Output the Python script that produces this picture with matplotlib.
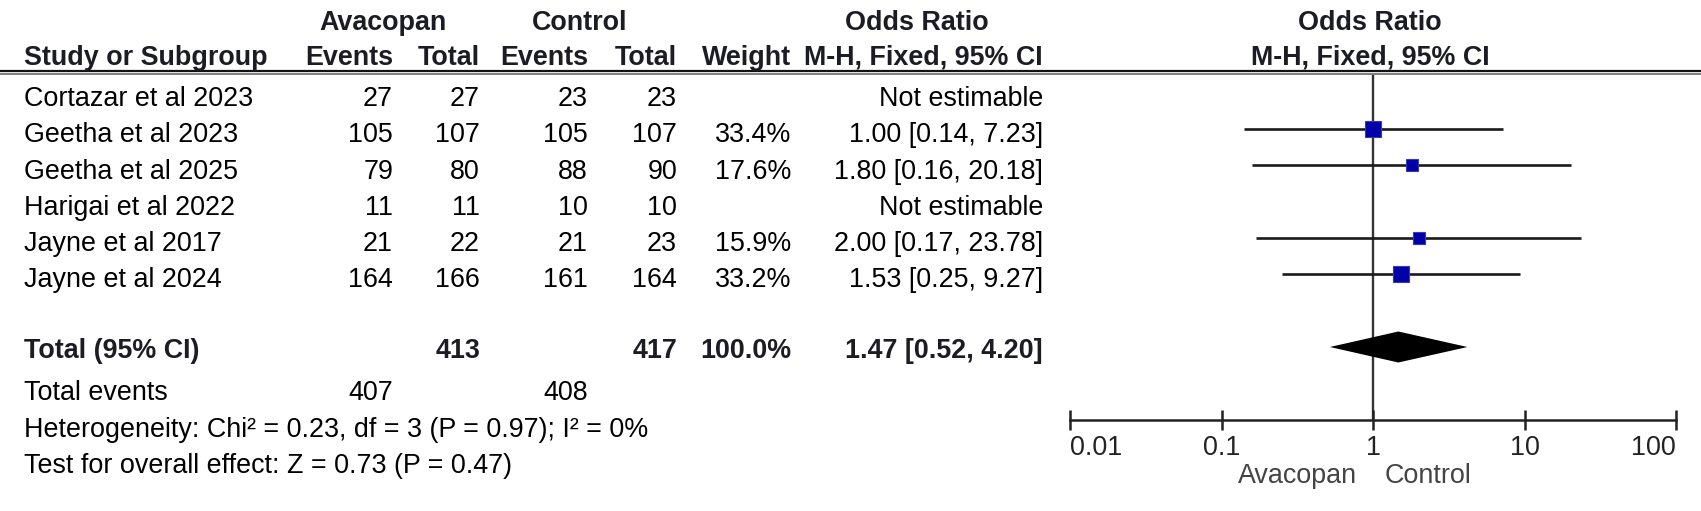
import matplotlib
matplotlib.use("Agg")
import matplotlib.pyplot as plt
from matplotlib.ticker import FixedLocator, FixedFormatter, NullLocator
import numpy as np

# ---------------- data ----------------
studies = ["Cortazar et al 2023", "Geetha et al 2023", "Geetha et al 2025",
           "Harigai et al 2022", "Jayne et al 2017", "Jayne et al 2024"]
ava_events = [27, 105, 79, 11, 21, 164]
ava_total = [27, 107, 80, 11, 22, 166]
ctl_events = [23, 105, 88, 10, 21, 161]
ctl_total = [23, 107, 90, 10, 23, 164]
weights = [None, 33.4, 17.6, None, 15.9, 33.2]
or_est = [None, 1.00, 1.80, None, 2.00, 1.53]
or_lo = [None, 0.14, 0.16, None, 0.17, 0.25]
or_hi = [None, 7.23, 20.18, None, 23.78, 9.27]

total_ava = 413
total_ctl = 417
total_weight = 100.0
total_or = 1.47
total_lo = 0.52
total_hi = 4.20
total_events_ava = 407
total_events_ctl = 408
heterogeneity = "Heterogeneity: Chi² = 0.23, df = 3 (P = 0.97); I² = 0%"
overall_test = "Test for overall effect: Z = 0.73 (P = 0.47)"

tick_values = [0.01, 0.1, 1, 10, 100]
tick_labels = ["0.01", "0.1", "1", "10", "100"]
favours_left = "Avacopan"
favours_right = "Control"

# ---------------- layout ----------------
W, H = 1701, 511
DPI = 100
FS = 19.4
FONT = "Liberation Sans"
plt.rcParams["font.family"] = [FONT, "DejaVu Sans"]

fig = plt.figure(figsize=(W / DPI, H / DPI), dpi=DPI)
fig.patch.set_facecolor("white")
bg = fig.add_axes([0, 0, 1, 1])
bg.set_xlim(0, W)
bg.set_ylim(H, 0)
bg.axis("off")

ROW0, ROWSTEP = 93, 36.2      # pixel row of first study mark, row spacing
TEXT_OFF = 3.5                # text sits slightly lower than the marks
def row_px(i):
    return ROW0 + ROWSTEP * i

CAP = 0.716 * FS / 0.72 / 2  # half cap height in px
HDR = "#1c1c24"
TXT = "#000000"

def put(x, y, s, ha="left", bold=False, color=TXT):
    bg.text(x, y + CAP, s, ha=ha, va="baseline", fontsize=FS,
            fontweight="bold" if bold else "normal", color=color)

# column right edges
X_NAME = 24
X_AE, X_AT, X_CE, X_CT, X_W, X_OR = 393, 480, 588, 677, 791, 1043

# headers
put(383, 20, "Avacopan", ha="center", bold=True, color=HDR)
put(580, 20, "Control", ha="center", bold=True, color=HDR)
put(917, 20, "Odds Ratio", ha="center", bold=True, color=HDR)
put(1370, 20, "Odds Ratio", ha="center", bold=True, color=HDR)
put(X_NAME, 55, "Study or Subgroup", bold=True, color=HDR)
put(X_AE, 55, "Events", ha="right", bold=True, color=HDR)
put(X_AT, 55, "Total", ha="right", bold=True, color=HDR)
put(X_CE, 55, "Events", ha="right", bold=True, color=HDR)
put(X_CT, 55, "Total", ha="right", bold=True, color=HDR)
put(X_W, 55, "Weight", ha="right", bold=True, color=HDR)
put(X_OR, 55, "M-H, Fixed, 95% CI", ha="right", bold=True, color=HDR)
put(1370, 55, "M-H, Fixed, 95% CI", ha="center", bold=True, color=HDR)

# double rule under header
bg.plot([0, W], [71.5, 71.5], color="#111111", lw=1.6, solid_capstyle="butt")
bg.plot([0, W], [74.5, 74.5], color="#666666", lw=1.2, solid_capstyle="butt")

# study rows
for i, name in enumerate(studies):
    y = row_px(i) + TEXT_OFF
    put(X_NAME, y, name)
    put(X_AE, y, str(ava_events[i]), ha="right")
    put(X_AT, y, str(ava_total[i]), ha="right")
    put(X_CE, y, str(ctl_events[i]), ha="right")
    put(X_CT, y, str(ctl_total[i]), ha="right")
    if weights[i] is not None:
        put(X_W, y, f"{weights[i]:.1f}%", ha="right")
        put(X_OR, y, f"{or_est[i]:.2f} [{or_lo[i]:.2f}, {or_hi[i]:.2f}]", ha="right")
    else:
        put(X_OR, y, "Not estimable", ha="right")

Y_TOT = 347
put(X_NAME, Y_TOT + 1, "Total (95% CI)", bold=True, color=HDR)
put(X_AT, Y_TOT + 1, str(total_ava), ha="right", bold=True, color=HDR)
put(X_CT, Y_TOT + 1, str(total_ctl), ha="right", bold=True, color=HDR)
put(X_W, Y_TOT + 1, f"{total_weight:.1f}%", ha="right", bold=True, color=HDR)
put(X_OR, Y_TOT + 1, f"{total_or:.2f} [{total_lo:.2f}, {total_hi:.2f}]", ha="right",
    bold=True, color=HDR)

put(X_NAME, 390, "Total events")
put(X_AE, 390, str(total_events_ava), ha="right")
put(X_CE, 390, str(total_events_ctl), ha="right")
put(X_NAME, 427, heterogeneity)
put(X_NAME, 463, overall_test)

# ---------------- forest axes ----------------
FX0, FX1 = 1070, 1676
FY0, FY1 = 75, 420
ax = fig.add_axes([FX0 / W, 1 - FY1 / H, (FX1 - FX0) / W, (FY1 - FY0) / H])
ax.set_xscale("log")
ax.set_xlim(tick_values[0], tick_values[-1])
ax.set_ylim((FY1 - ROW0) / ROWSTEP, (FY0 - ROW0) / ROWSTEP)
ax.patch.set_alpha(0)
for s in ("top", "left", "right"):
    ax.spines[s].set_visible(False)
ax.spines["bottom"].set_linewidth(1.8)
ax.spines["bottom"].set_color("#222222")
ax.yaxis.set_major_locator(NullLocator())
ax.xaxis.set_major_locator(FixedLocator(tick_values))
ax.xaxis.set_major_formatter(FixedFormatter(tick_labels))
ax.xaxis.set_minor_locator(NullLocator())
ax.tick_params(axis="x", direction="inout", length=15, width=1.8, color="#222222",
               labelsize=FS, pad=3, labelcolor="#222222")
labs = ax.get_xticklabels()
for lab in labs:
    lab.set_fontfamily([FONT, "DejaVu Sans"])
labs[0].set_ha("left")
labs[-1].set_ha("right")

ax.axvline(1, color="#333333", lw=1.7, zorder=1)

for i in range(len(studies)):
    if or_est[i] is None:
        continue
    ax.hlines(i, or_lo[i], or_hi[i], color="#1a1a1a", lw=1.9, zorder=2)
    side_px = 2.77 * np.sqrt(weights[i])
    ax.plot([or_est[i]], [i], marker="s", markersize=side_px * 0.72,
            markerfacecolor="#0000A8", markeredgecolor="#3a3ab0",
            markeredgewidth=0.8, linestyle="none", zorder=3)

t_row = (Y_TOT - ROW0) / ROWSTEP
dh = 15.5 / ROWSTEP
ax.fill([total_lo, total_or, total_hi, total_or],
        [t_row, t_row - dh, t_row, t_row + dh], color="black", zorder=3, lw=0)

# favours labels
fav_y = -(476 - FY1) / (FY1 - FY0)
ax.text(0.78, fav_y, favours_left, transform=ax.get_xaxis_transform(),
        ha="right", va="center", fontsize=FS, color="#444444")
ax.text(1.2, fav_y, favours_right, transform=ax.get_xaxis_transform(),
        ha="left", va="center", fontsize=FS, color="#444444")

fig.savefig("out.png", dpi=DPI, facecolor="white")
